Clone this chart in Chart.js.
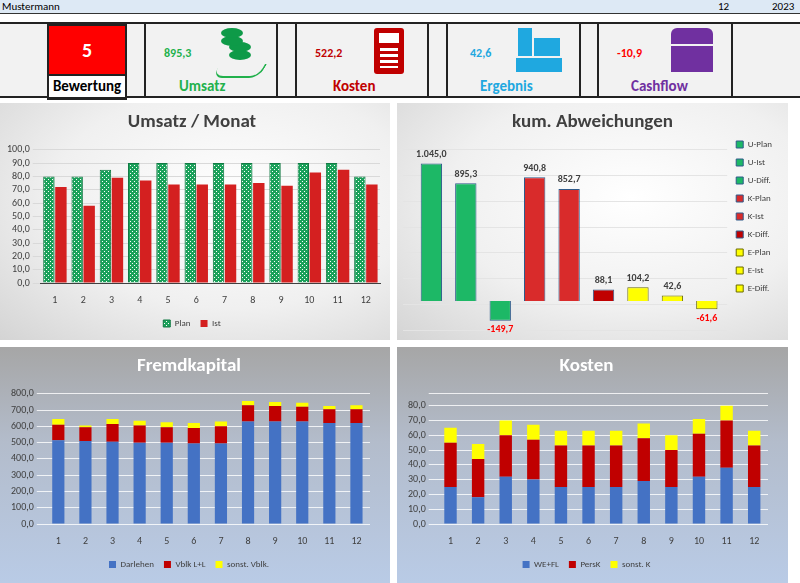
<!DOCTYPE html>
<html>
<head>
<meta charset="utf-8">
<script src="https://cdn.jsdelivr.net/npm/chart.js@4"></script>
<style>
  body { margin: 0; width: 800px; height: 583px; overflow: hidden; background: #fff; font-family: Calibri, Carlito, "Liberation Sans", sans-serif; position: relative; }
  .top { position: absolute; left: 0; top: 0; width: 800px; height: 13px; background: #dde9f5; border-bottom: 1px solid #333; font-size: 11px; line-height: 13px; }
  .kpirow { position: absolute; left: 0; top: 22px; width: 800px; height: 72px; background: #f2f2f2; border-top: 2px solid #222; border-bottom: 2px solid #222; }
  .cell { position: absolute; top: 0; height: 72px; border-left: 2px solid #222; border-right: 2px solid #222; }
  .val { position: absolute; top: 22px; font-size: 12px; font-weight: bold; }
  .lbl { position: absolute; top: 53px; font-size: 15px; font-weight: bold; }
  .panel { position: absolute; }
  .light { background: radial-gradient(ellipse at 60% 40%, #ffffff 0%, #f0f0f0 55%, #d4d4d4 100%); }
  .dark { background: linear-gradient(#a6a6a6 0%, #b3bccb 40%, #b9cbe6 100%); }
  canvas { display: block; }
</style>
</head>
<body>
<div class="top"><span style="position:absolute;left:2px">Mustermann</span><span style="position:absolute;left:718px">12</span><span style="position:absolute;left:772px">2023</span></div>
<div class="kpirow">
  <div class="cell" style="left:47px;width:76px;border:2px solid #222;">
    <div style="height:48px;background:#ff0000;color:#fff;font-size:20px;font-weight:bold;text-align:center;line-height:48px;">5</div>
    <div style="border-top:2px solid #222;background:#fff;font-size:15px;font-weight:bold;text-align:center;line-height:21px;">Bewertung</div>
  </div>
  <div class="cell" style="left:144px;width:130px;">
    <div class="val" style="left:18px;color:#22b14c">895,3</div>
    <div style="position:absolute;left:75px;top:4px;width:22px;height:10px;border-radius:50%;background:#0e9a48;box-shadow:0 8px 0 #0e9a48, 8px 14px 0 #0e9a48, 8px 22px 0 #0e9a48"></div>
    <div style="position:absolute;left:70px;top:40px;width:45px;height:12px;border-bottom:2px solid #22b14c;border-right:2px solid #22b14c;border-radius:0 0 10px 10px;transform:skewX(-30deg)"></div>
    <div class="lbl" style="left:33px;color:#22b14c">Umsatz</div>
  </div>
  <div class="cell" style="left:295px;width:130px;">
    <div class="val" style="left:18px;color:#c00000">522,2</div>
    <div style="position:absolute;left:77px;top:4px;width:30px;height:46px;background:#c00000;border-radius:3px"><div style="margin:5px 5px;height:10px;background:#fff"></div><div style="margin:3px 6px;height:20px;background:repeating-linear-gradient(#fff 0 3px,transparent 3px 6px);"></div></div>
    <div class="lbl" style="left:36px;color:#c00000">Kosten</div>
  </div>
  <div class="cell" style="left:446px;width:131px;">
    <div class="val" style="left:22px;color:#1fa8e0">42,6</div>
    <div style="position:absolute;left:70px;top:4px;width:14px;height:28px;background:#1fa8e0"></div>
    <div style="position:absolute;left:86px;top:14px;width:26px;height:18px;background:#1fa8e0"></div>
    <div style="position:absolute;left:68px;top:34px;width:46px;height:14px;background:#1fa8e0"></div>
    <div class="lbl" style="left:32px;color:#1fa8e0">Ergebnis</div>
  </div>
  <div class="cell" style="left:597px;width:132px;">
    <div class="val" style="left:18px;color:#ff0000">-10,9</div>
    <div style="position:absolute;left:72px;top:4px;width:42px;height:16px;background:#7030a0;border-radius:6px 6px 0 0"></div>
    <div style="position:absolute;left:72px;top:22px;width:42px;height:26px;background:#7030a0"></div>
    <div class="lbl" style="left:32px;color:#7030a0">Cashflow</div>
  </div>
</div>

<div class="panel light" style="left:0;top:103px;width:390px;height:237px"><canvas id="c1" width="390" height="237"></canvas></div>
<div class="panel light" style="left:397px;top:103px;width:391px;height:237px"><canvas id="c2" width="391" height="237"></canvas></div>
<div class="panel dark" style="left:0;top:347px;width:390px;height:236px"><canvas id="c3" width="390" height="236"></canvas></div>
<div class="panel dark" style="left:397px;top:347px;width:391px;height:236px"><canvas id="c4" width="391" height="236"></canvas></div>

<script>
const months = ["1","2","3","4","5","6","7","8","9","10","11","12"];
const umsatzPlan = [80,80,85,90,90,90,90,90,90,90,90,80];
const umsatzIst = [72,58,79,77,74,74,74,75,73,83,85,74];

const abwLabels = ["U-Plan","U-Ist","U-Diff.","K-Plan","K-Ist","K-Diff.","E-Plan","E-Ist","E-Diff."];
const abwValues = [1045.0,895.3,-149.7,940.8,852.7,88.1,104.2,42.6,-61.6];
const abwColors = ["#1db866","#1db866","#1db866","#d92b2b","#d92b2b","#c00000","#ffff00","#ffff00","#ffff00"];

const fkDarlehen = [515,510,505,500,500,495,495,630,630,630,620,620];
const fkVblk = [95,85,110,105,95,95,105,100,95,90,85,85];
const fkSonst = [35,10,30,30,30,30,30,25,25,25,20,25];

const kWeFl = [25,18,32,30,25,25,25,29,25,32,38,25];
const kPers = [30,26,28,27,28,28,28,29,25,29,32,28];
const kSonst = [10,10,10,10,10,10,10,10,10,10,10,10];

Chart.defaults.animation = false;
Chart.defaults.font.family = "Calibri, Carlito, 'Liberation Sans', sans-serif";
Chart.defaults.font.size = 10;
Chart.defaults.color = "#404040";

const de1 = v => v.toLocaleString("de-DE", {minimumFractionDigits: 1, maximumFractionDigits: 1});

// green dotted pattern for plan bars
const pc = document.createElement("canvas");
pc.width = 4; pc.height = 4;
const px = pc.getContext("2d");
px.fillStyle = "#1aa15a"; px.fillRect(0,0,4,4);
px.fillStyle = "#ffffff"; px.fillRect(0,0,1,1); px.fillRect(2,2,1,1);
const planPattern = px.createPattern(pc, "repeat");

function title(text, color) {
  return { display: true, text, color, font: { size: 19, weight: "bold" }, padding: { top: 8, bottom: 16 } };
}
function legend(color) {
  return { position: "bottom", labels: { boxWidth: 7, boxHeight: 7, color, font: { size: 9 } } };
}

new Chart(document.getElementById("c1"), {
  type: "bar",
  data: { labels: months, datasets: [
    { label: "Plan", data: umsatzPlan, backgroundColor: planPattern, borderColor: "#127a44", borderWidth: 1, categoryPercentage: 0.85, barPercentage: 0.95 },
    { label: "Ist", data: umsatzIst, backgroundColor: "#d42020", categoryPercentage: 0.85, barPercentage: 0.95 }
  ]},
  options: { responsive: false, layout: { padding: { left: 4, right: 10, bottom: 2 } },
    plugins: { title: title("Umsatz / Monat", "#404040"), legend: legend("#404040") },
    scales: {
      x: { grid: { display: false }, border: { color: "#404040" } },
      y: { min: 0, max: 100, ticks: { stepSize: 10, autoSkip: false, callback: de1 }, grid: { color: "#d9d9d9" }, border: { display: false } }
    } }
});

const valueLabels = {
  id: "valueLabels",
  afterDatasetsDraw(chart) {
    const ctx = chart.ctx;
    ctx.save();
    ctx.font = "bold 10px Calibri, Carlito, 'Liberation Sans', sans-serif";
    ctx.textAlign = "center";
    chart.data.datasets.forEach((ds, i) => {
      const el = chart.getDatasetMeta(i).data[0];
      const v = ds.data[0];
      if (v < 0) { ctx.fillStyle = "#ff0000"; ctx.textBaseline = "top"; ctx.fillText(de1(v), el.x, el.y + 4); }
      else { ctx.fillStyle = "#404040"; ctx.textBaseline = "bottom"; ctx.fillText(de1(v), el.x, el.y - 4); }
    });
    ctx.restore();
  }
};

new Chart(document.getElementById("c2"), {
  type: "bar",
  data: { labels: [""], datasets: abwLabels.map((l, i) => ({
    label: l, data: [abwValues[i]], backgroundColor: abwColors[i],
    borderColor: i >= 6 ? "#6b6b00" : "#2e5a8a", borderWidth: 1,
    categoryPercentage: 0.98, barPercentage: 0.62
  }))},
  options: { responsive: false, layout: { padding: { left: 6, right: 6, bottom: 10 } },
    plugins: { title: title("kum. Abweichungen", "#404040"),
      legend: { position: "right", labels: { boxWidth: 7, boxHeight: 7, padding: 9, font: { size: 9 } } } },
    scales: {
      x: { display: false },
      y: { min: -220, max: 1150, ticks: { display: false, stepSize: 200 }, grid: { color: "#e4e4e4" }, border: { display: false } }
    } },
  plugins: [valueLabels]
});

function stacked(id, t, labels, arrs, max, step) {
  new Chart(document.getElementById(id), {
    type: "bar",
    data: { labels: months, datasets: arrs.map((a, i) => ({
      label: labels[i], data: a, backgroundColor: ["#4472c4","#c00000","#ffff00"][i], barPercentage: 0.45, categoryPercentage: 1
    }))},
    options: { responsive: false, layout: { padding: { left: 8, right: 20, bottom: 4 } },
      plugins: { title: title(t, "#ffffff"), legend: legend("#404040") },
      scales: {
        x: { stacked: true, grid: { display: false }, border: { display: false } },
        y: { stacked: true, min: 0, max, ticks: { stepSize: step, autoSkip: false, callback: v => v > max - step / 2 && max % step ? "" : de1(v) }, grid: { color: "rgba(255,255,255,0.8)" }, border: { display: false } }
      } }
  });
}
stacked("c3", "Fremdkapital", ["Darlehen","Vblk L+L","sonst. Vblk."], [fkDarlehen, fkVblk, fkSonst], 800, 100);
stacked("c4", "Kosten", ["WE+FL","PersK","sonst. K"], [kWeFl, kPers, kSonst], 88, 10);
</script>
</body>
</html>
